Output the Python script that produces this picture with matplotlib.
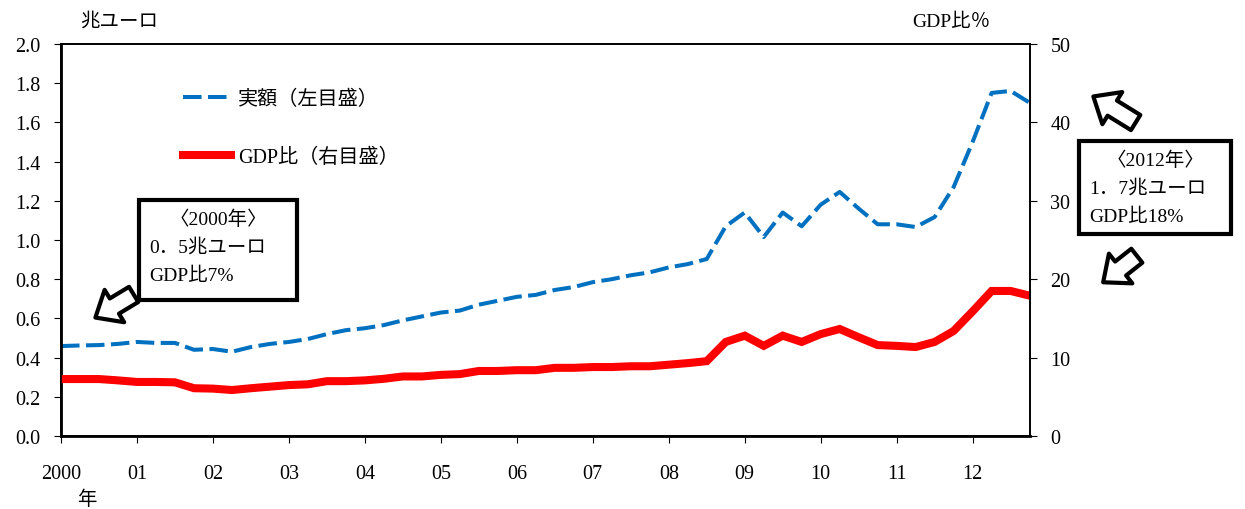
import matplotlib
matplotlib.use('Agg')
import matplotlib.pyplot as plt
from matplotlib.patches import FancyArrowPatch, Rectangle

plt.rcParams['font.family'] = ['Liberation Serif', 'Noto Sans CJK JP']
plt.rcParams['font.size'] = 14.5

# 四半期データ (2000Q1 - 2012Q4)
quarters = [2000 + i * 0.25 for i in range(52)]

amount = [0.459, 0.462, 0.464, 0.470, 0.480, 0.475, 0.475, 0.440,
          0.444, 0.430, 0.454, 0.470, 0.480, 0.495, 0.520, 0.540,
          0.550, 0.566, 0.590, 0.610, 0.630, 0.640, 0.670, 0.690,
          0.710, 0.720, 0.745, 0.760, 0.785, 0.800, 0.820, 0.835,
          0.860, 0.877, 0.903, 1.070, 1.140, 1.015, 1.140, 1.070,
          1.180, 1.245, 1.160, 1.080, 1.080, 1.066, 1.117, 1.270,
          1.500, 1.750, 1.760, 1.700]

gdp_ratio = [7.27, 7.27, 7.27, 7.1, 6.9, 6.9, 6.85, 6.1,
             6.05, 5.87, 6.1, 6.3, 6.5, 6.6, 7.0, 7.0,
             7.1, 7.3, 7.6, 7.6, 7.8, 7.9, 8.3, 8.3,
             8.4, 8.4, 8.7, 8.7, 8.8, 8.8, 8.9, 8.9,
             9.1, 9.3, 9.55, 12.0, 12.8, 11.5, 12.8, 12.0,
             13.0, 13.65, 12.6, 11.6, 11.5, 11.35, 12.0, 13.4,
             15.9, 18.5, 18.5, 17.9]

year_ticks = list(range(2000, 2013))
year_labels = ['2000'] + ['%02d' % (y - 2000) for y in range(2001, 2013)]

fig = plt.figure(figsize=(12.45, 5.1), dpi=100)
ax = fig.add_axes([0.049, 0.143, 0.778, 0.769])
ax2 = ax.twinx()

l1, = ax.plot(quarters, amount, color='#0070C0', lw=2.9,
              ls=(0, (4.6, 1.6)), label='実額（左目盛）')
l2, = ax2.plot(quarters, gdp_ratio, color='#FF0000', lw=5.8,
               solid_joinstyle='miter', label='GDP比（右目盛）')

ax.set_xlim(2000, 2012.75)
ax.set_ylim(0, 2.0)
ax.set_yticks([i * 0.2 for i in range(11)])
ax.set_yticklabels(['%.1f' % (i * 0.2) for i in range(11)])
ax2.set_ylim(0, 50)
ax2.set_yticks(range(0, 51, 10))
ax.set_xticks(year_ticks)
ax.set_xticklabels(year_labels)

ax.tick_params(axis='x', direction='out', length=5, pad=15)
ax.tick_params(axis='y', direction='out', length=5, pad=10)
ax2.tick_params(axis='y', direction='out', length=5, pad=10)
for a in (ax, ax2):
    for s in a.spines.values():
        s.set_color('black')
        s.set_linewidth(1.2)
ax.spines['left'].set_linewidth(2)
ax.spines['bottom'].set_linewidth(2)

ax.legend(handles=[l1, l2], frameon=False, loc='upper left',
          bbox_to_anchor=(0.107, 0.93), labelspacing=1.95,
          handlelength=2.4, handletextpad=0.35, fontsize=14.5)

fig.text(80 / 1245, 1 - 22 / 510, '兆ユーロ', fontsize=14, va='center')
fig.text(912 / 1245, 1 - 22 / 510, 'GDP比％', fontsize=14, va='center')
fig.text(77 / 1245, 1 - 500 / 510, '年', fontsize=14, va='center')


def px(x, y):
    return (x / 1245, 1 - y / 510)


def note_box(x0, y0, x1, y1, lines):
    fig.patches.append(Rectangle(px(x0, y1), (x1 - x0) / 1245, (y1 - y0) / 510,
                                 transform=fig.transFigure, fc='white',
                                 ec='black', lw=3, zorder=5))
    cx = (x0 + x1) / 2
    fig.text(*px(cx, y0 + 19), lines[0], ha='center', va='center',
             fontsize=14, zorder=6)
    for i, t in enumerate(lines[1:]):
        fig.text(*px(x0 + 10, y0 + 47 + 28 * i), t, ha='left', va='center',
                 fontsize=14, zorder=6)


def hollow_arrow(x0, y0, x1, y1):
    fig.patches.append(FancyArrowPatch(px(x0, y0), px(x1, y1),
                                       transform=fig.transFigure,
                                       arrowstyle='simple,head_length=0.5,head_width=0.85,tail_width=0.4',
                                       mutation_scale=32, fc='white', ec='black',
                                       lw=3, joinstyle='round', zorder=5))


note_box(139, 201, 297, 301, ['〈2000年〉', '0．5兆ユーロ', 'GDP比7%'])
note_box(1079, 142, 1231, 235, ['〈2012年〉', '1．7兆ユーロ', 'GDP比18%'])
hollow_arrow(136, 294, 93, 320)
hollow_arrow(1138, 125, 1091, 96)
hollow_arrow(1139, 255, 1101, 285)

fig.savefig('out.png', dpi=100)
